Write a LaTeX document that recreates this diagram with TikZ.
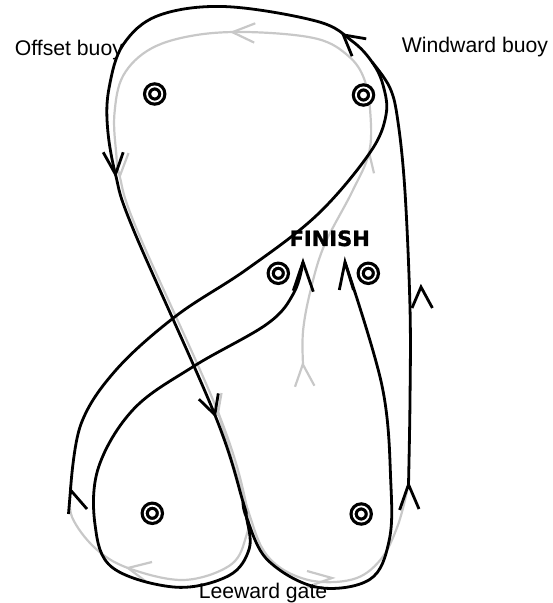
\documentclass[tikz,border=0pt]{standalone}
\usepackage{fontspec}
\setmainfont{Liberation Sans}
\newfontfamily\finishfont[FakeBold=1.5]{DejaVu Sans Bold}
\definecolor{lapgray}{RGB}{200,200,200}
\tikzset{lapone/.style={draw=lapgray, line width=1.1pt, line join=miter},
  laptwo/.style={draw=black, line width=1.4pt, line join=miter},
  buoy/.style={circle, draw, fill=white, double, line width=1.6pt, double distance=0.9pt,
    minimum size=7.6pt, inner sep=0pt},
  lbl/.style={font=\fontsize{10.6}{12}\selectfont, anchor=base, inner sep=0pt}}

\begin{document}
\begin{tikzpicture}[x=0.5pt, y=-0.5pt]
  \useasboundingbox (0,0) rectangle (552,603);
  % first lap, grey
  \draw[lapone] plot[smooth, tension=0.6] coordinates {(303,364) (303,331.4) (310,292.6) (324,246)
    (352,192) (369,153) (370.4,114.3) (364.4,79.5) (348.6,56.2) (317,38.8) (253.5,32.2) (197.2,34.9)
    (151.4,48.4) (123.2,75.6) (114.4,114.3) (116.2,153.1) (119.7,176.4) (137.3,230.6) (218.3,412.8)
    (246.5,505.8) (245,540) (229,566) (183,580) (128,568) (95,548) (72,517) (70.5,490)};
  \draw[lapone] plot[smooth, tension=0.6] coordinates {(218.3,412.8) (246.5,505.8) (267.6,556.2)
    (306.3,579.5) (352.1,579.5) (380.3,560) (397.9,525.2) (408.5,484.5)};
  \draw[lapone] (255.3,23.3) -- (232.4,32.2) -- (254.2,42.6);
  \draw[lapone] (128.5,153.1) -- (119.7,176.4);
  \draw[lapone] (374,173.3) -- (369,152.3);
  \draw[lapone] (221.5,393) -- (217.5,416);
  \draw[lapone] (295,386.8) -- (302.8,364.3) -- (314.4,385.7);
  \draw[lapone] (152,562) -- (128,568) -- (148,583);
  \draw[lapone] (307,571) -- (332,578) -- (307,587);
  % second lap, black
  \draw[laptwo] plot[smooth, tension=0.6] coordinates {(70.5,490) (81,424) (116,370) (176,316)
    (246.5,269.5) (317,215) (369.7,153) (386,115) (383,85) (372,62) (352,41) (317,21.3) (225.4,6.6)
    (158.5,15.5) (123.2,44.6) (109.2,87.2) (107.4,126) (115.5,174.4) (133.8,230.6) (214.8,414.7)
    (243,501.9) (246.5,517.4) (249.3,548.4) (228.9,575.6) (176,587.2) (112.7,567.8) (95.1,525.2)
    (98.6,467.1) (133.8,408.9) (193.7,366.3) (267.6,323.6) (294,292.6) (303,262)};
  \draw[laptwo] plot[smooth, tension=0.6] coordinates {(408.5,484.5) (410,400) (410,308) (405,192)
    (398,122) (390,88) (372,62)};
  \draw[laptwo] plot[smooth, tension=0.6] coordinates {(243,501.9) (246.5,517.4) (267.6,560)
    (316.9,587.2) (369.7,579.5) (389.1,540.7) (390.8,482.6) (382,385.7) (345,262)};
  \draw[laptwo] (366.2,38.8) -- (343.3,34.9) -- (352.1,56.2);
  \draw[laptwo] (103.2,152.3) -- (115.5,174.4) -- (123.2,152.3);
  \draw[laptwo] (198.9,399.2) -- (214.8,414.7) -- (218.3,393.4);
  \draw[laptwo] (293.3,290.7) -- (303,262) -- (313.3,291.7);
  \draw[laptwo] (339.3,290) -- (345,262) -- (353.5,290);
  \draw[laptwo] (399.6,510) -- (408.5,484.5) -- (419,509);
  \draw[laptwo] (412,308) -- (421,287) -- (432.4,308);
  \draw[laptwo] (68.5,514) -- (70.5,490) -- (87,509);
  % buoys
  \node[buoy] (offset) at (154.7,94) {};
  \node[buoy] (windward) at (363.5,95) {};
  \node[buoy] (finl) at (278.3,273.3) {};
  \node[buoy] (finr) at (368.3,273.3) {};
  \node[buoy] (leel) at (152.3,513.3) {};
  \node[buoy] (leer) at (361.2,514) {};
  % labels
  \node[lbl] (offsetlbl) at (68.9,56) {Offset buoy};
  \node[lbl] (windlbl) at (475,53) {Windward buoy};
  \node[lbl] (leelbl) at (263,598) {Leeward gate};
  \node[anchor=base, inner sep=0pt, font=\finishfont\fontsize{10.5}{12}\selectfont] (finish)
    at (329.7,246) {FINISH};
\end{tikzpicture}
\end{document}
